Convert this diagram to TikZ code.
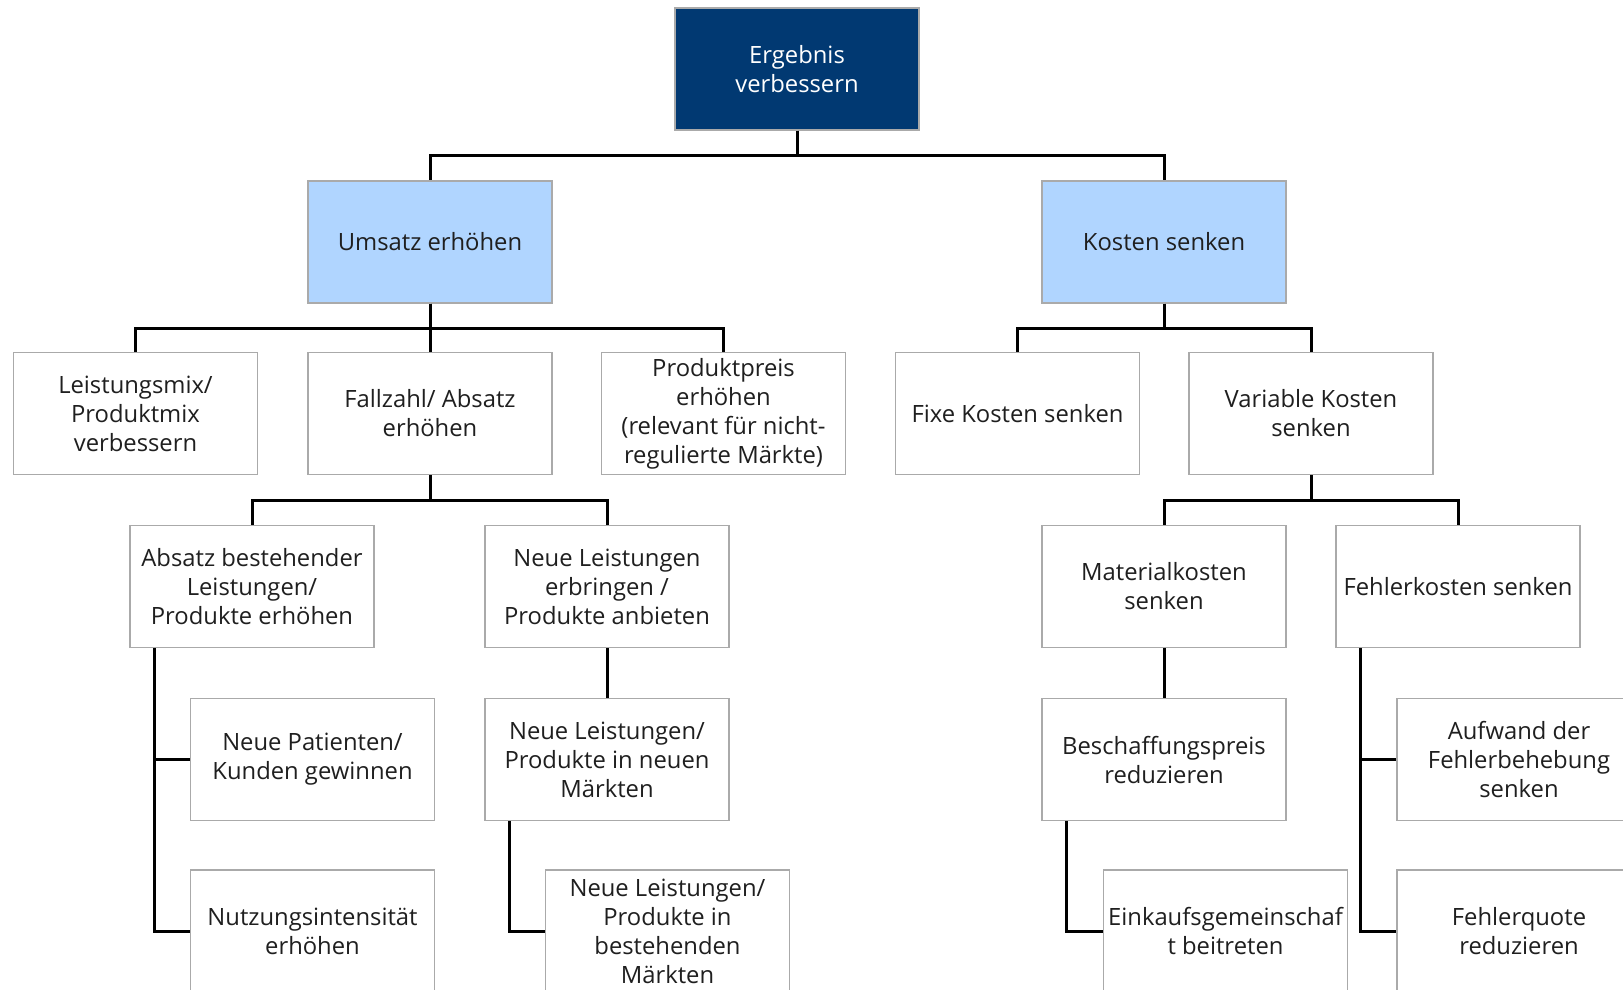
\documentclass[tikz,border=0pt]{standalone}
\usepackage{fontspec}
\setmainfont{Open Sans}
\definecolor{navy}{RGB}{1,57,114}
\definecolor{lightblue}{RGB}{176,213,255}
\definecolor{boxline}{RGB}{170,170,170}
\tikzset{
  box/.style={rectangle,draw=boxline,line width=1.3pt,fill=white,
    minimum width=244pt,minimum height=122pt,inner sep=2pt,align=center,
    font=\fontsize{23.8}{29}\selectfont,text=black!88},
  mainbox/.style={box,fill=navy,text=white},
  goalbox/.style={box,fill=lightblue},
  treeline/.style={line width=3pt,black}
}
\begin{document}
\begin{tikzpicture}
  [x=1pt,y=-1pt]
  \clip (0,0) rectangle (1623,989);
  \fill[white] (0,0) rectangle (1623,989);

  \node[mainbox] (ergebnis) at (797,69) {Ergebnis\\verbessern};
  \node[goalbox] (umsatz) at (430,242) {Umsatz erhöhen};
  \node[goalbox] (kosten) at (1164,242) {Kosten senken};

  \node[box] (mix)      at (135.5,413.5) {Leistungsmix/\\Produktmix\\verbessern};
  \node[box] (fallzahl) at (430,413.5)   {Fallzahl/ Absatz\\erhöhen};
  \node[box] (preis)    at (723.5,413.5) {Produktpreis\\erhöhen\\(relevant für nicht-\\regulierte Märkte)};
  \node[box] (fixe)     at (1017.5,413.5) {Fixe Kosten senken};
  \node[box] (variable) at (1311,413.5)  {Variable Kosten\\senken};

  \node[box] (absatz)       at (252,586.5)  {Absatz bestehender\\Leistungen/\\Produkte erhöhen};
  \node[box] (neuerbringen) at (607,586.5)  {Neue Leistungen\\erbringen /\\Produkte anbieten};
  \node[box] (material)     at (1164,586.5) {Materialkosten\\senken};
  \node[box] (fehler)       at (1458,586.5) {Fehlerkosten senken};

  \node[box] (patienten)   at (312.5,759.5) {Neue Patienten/\\Kunden gewinnen};
  \node[box] (neuemaerkte) at (607,759.5)   {Neue Leistungen/\\Produkte in neuen\\Märkten};
  \node[box] (beschaffung) at (1164,759.5)  {Beschaffungspreis\\reduzieren};
  \node[box] (aufwand)     at (1519,759.5)  {Aufwand der\\Fehlerbehebung\\senken};

  \node[box] (nutzung)    at (312.5,931)  {Nutzungsintensität\\erhöhen};
  \node[box] (bestehend)  at (667.5,931)  {Neue Leistungen/\\Produkte in\\bestehenden\\Märkten};
  \node[box] (einkauf)    at (1225.5,931) {Einkaufsgemeinschaf\\t beitreten};
  \node[box] (quote)      at (1519,931)   {Fehlerquote\\reduzieren};

  % bus lines below a parent
  \foreach \from/\to in {ergebnis/umsatz,ergebnis/kosten,umsatz/mix,umsatz/fallzahl,
      umsatz/preis,kosten/fixe,kosten/variable,fallzahl/absatz,fallzahl/neuerbringen,
      variable/material,variable/fehler}
    \draw[treeline] (\from.south) -- ++(0,25) -| (\to.north);
  \foreach \from/\to in {neuerbringen/neuemaerkte,material/beschaffung}
    \draw[treeline] (\from) -- (\to);
  % side branches from the left edge
  \foreach \from/\to in {absatz/patienten,absatz/nutzung,neuemaerkte/bestehend,
      beschaffung/einkauf,fehler/aufwand,fehler/quote}
    \draw[treeline] (\from.south west) ++(25,0) |- (\to.west);

\end{tikzpicture}
\end{document}
